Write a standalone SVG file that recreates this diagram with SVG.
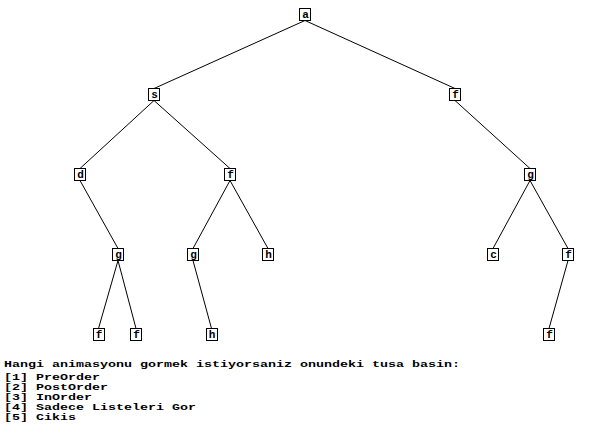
<svg xmlns="http://www.w3.org/2000/svg" width="597" height="426" viewBox="0 0 597 426">
<style>
.bg{fill:#fff}
.node rect{fill:#fff;stroke:#000;stroke-width:1}
.node text{font-family:"Liberation Mono","DejaVu Sans Mono",monospace;font-size:11px;font-weight:bold;text-anchor:middle;fill:#000}
.edges line{stroke:#000;stroke-width:1}
.menu{font-family:"Liberation Mono","DejaVu Sans Mono",monospace;font-size:8.8px;font-weight:bold;fill:#000}
</style>
<rect class="bg" x="0" y="0" width="597" height="426"/>
<g id="edges" class="edges">
<line x1="305" y1="20.5" x2="154" y2="88.5"/>
<line x1="305" y1="20.5" x2="455" y2="88.5"/>
<line x1="154" y1="100.5" x2="80" y2="168.5"/>
<line x1="154" y1="100.5" x2="230" y2="168.5"/>
<line x1="455" y1="100.5" x2="530" y2="168.5"/>
<line x1="80" y1="180.5" x2="118" y2="248.5"/>
<line x1="230" y1="180.5" x2="193" y2="248.5"/>
<line x1="230" y1="180.5" x2="268" y2="248.5"/>
<line x1="530" y1="180.5" x2="493" y2="248.5"/>
<line x1="530" y1="180.5" x2="568" y2="248.5"/>
<line x1="118" y1="260.5" x2="98.5" y2="328.5"/>
<line x1="118" y1="260.5" x2="136" y2="328.5"/>
<line x1="193" y1="260.5" x2="211.5" y2="328.5"/>
<line x1="568" y1="260.5" x2="549" y2="328.5"/>
</g>
<g id="n_a" class="node"><rect x="299.5" y="8.5" width="11" height="12"/><text x="305.5" y="18">a</text></g>
<g id="n_s" class="node"><rect x="148.5" y="88.5" width="11" height="12"/><text x="154.5" y="98">s</text></g>
<g id="n_f1" class="node"><rect x="449.5" y="88.5" width="11" height="12"/><text x="455.5" y="98">f</text></g>
<g id="n_d" class="node"><rect x="74.5" y="168.5" width="11" height="12"/><text x="80.5" y="178">d</text></g>
<g id="n_f2" class="node"><rect x="224.5" y="168.5" width="11" height="12"/><text x="230.5" y="178">f</text></g>
<g id="n_g1" class="node"><rect x="524.5" y="168.5" width="11" height="12"/><text x="530.5" y="178">g</text></g>
<g id="n_g2" class="node"><rect x="112.5" y="248.5" width="11" height="12"/><text x="118.5" y="258">g</text></g>
<g id="n_g3" class="node"><rect x="187.5" y="248.5" width="11" height="12"/><text x="193.5" y="258">g</text></g>
<g id="n_h1" class="node"><rect x="262.5" y="248.5" width="11" height="12"/><text x="268.5" y="258">h</text></g>
<g id="n_c" class="node"><rect x="487.5" y="248.5" width="11" height="12"/><text x="493.5" y="258">c</text></g>
<g id="n_f3" class="node"><rect x="562.5" y="248.5" width="11" height="12"/><text x="568.5" y="258">f</text></g>
<g id="n_f4" class="node"><rect x="93.5" y="328.5" width="11" height="12"/><text x="99" y="338">f</text></g>
<g id="n_f5" class="node"><rect x="130.5" y="328.5" width="11" height="12"/><text x="136.5" y="338">f</text></g>
<g id="n_h2" class="node"><rect x="206.5" y="328.5" width="11" height="12"/><text x="212" y="338">h</text></g>
<g id="n_f6" class="node"><rect x="543.5" y="328.5" width="11" height="12"/><text x="549.5" y="338">f</text></g>
<g id="menu" class="menu">
<text x="4" y="367" textLength="456" lengthAdjust="spacingAndGlyphs">Hangi animasyonu gormek istiyorsaniz onundeki tusa basin:</text>
<text x="4" y="380" textLength="96" lengthAdjust="spacingAndGlyphs">[1] PreOrder</text>
<text x="4" y="390" textLength="104" lengthAdjust="spacingAndGlyphs">[2] PostOrder</text>
<text x="4" y="400" textLength="88" lengthAdjust="spacingAndGlyphs">[3] InOrder</text>
<text x="4" y="410" textLength="192" lengthAdjust="spacingAndGlyphs">[4] Sadece Listeleri Gor</text>
<text x="4" y="420" textLength="72" lengthAdjust="spacingAndGlyphs">[5] Cikis</text>
</g>
</svg>
